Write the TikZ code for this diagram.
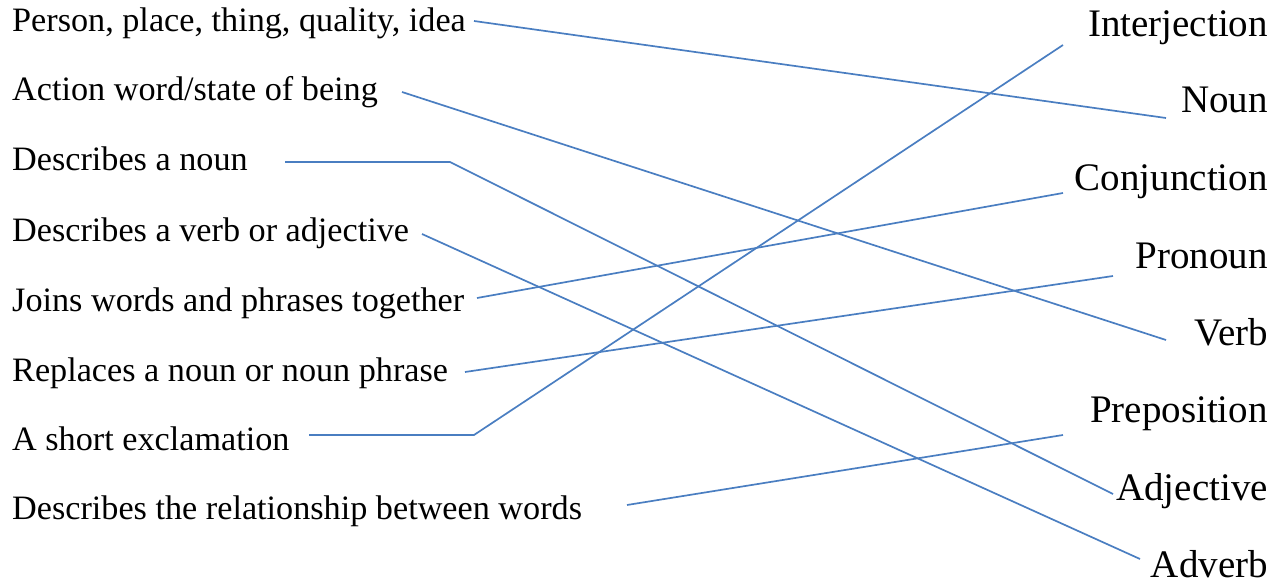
\documentclass[tikz,border=0pt]{standalone}
\usepackage{fontspec}
\setmainfont{Liberation Serif}
\definecolor{linkblue}{RGB}{74,126,193}
\begin{document}
\begin{tikzpicture}[x=1pt,y=-1pt,
  deftext/.style={anchor=base west,inner sep=0pt,font=\fontsize{34.2}{40}\selectfont},
  termtext/.style={anchor=base east,inner sep=0pt,font=\fontsize{39}{46}\selectfont},
  link/.style={draw=linkblue,line width=1.7pt}]
\useasboundingbox (0,0) rectangle (1283,583);
% definitions
\node[deftext] (d1) at (12,32) {Person, place, thing, quality, idea};
\node[deftext] (d2) at (12,101) {Action word/state of being};
\node[deftext] (d3) at (12,171) {Describes a noun};
\node[deftext] (d4) at (12,241) {Describes a verb or adjective};
\node[deftext] (d5) at (12,311) {Joins words and phrases together};
\node[deftext] (d6) at (12,381) {Replaces a noun or noun phrase};
\node[deftext] (d7) at (12,450) {A short exclamation};
\node[deftext] (d8) at (12,519) {Describes the relationship between words};
% terms
\node[termtext] (t1) at (1268,37) {Interjection};
\node[termtext] (t2) at (1268,113) {Noun};
\node[termtext] (t3) at (1268,190) {Conjunction};
\node[termtext] (t4) at (1268,268) {Pronoun};
\node[termtext] (t5) at (1268,345) {Verb};
\node[termtext] (t6) at (1268,422) {Preposition};
\node[termtext] (t7) at (1268,500) {Adjective};
\node[termtext] (t8) at (1268,577) {Adverb};
% connector ends
\coordinate (a1) at (474,21);   \coordinate (b1) at (1166,118);
\coordinate (a2) at (402,92);   \coordinate (b2) at (1166,340);
\coordinate (a3) at (285,162);  \coordinate (k3) at (450,162); \coordinate (b3) at (1113,494);
\coordinate (a4) at (422,234);  \coordinate (b4) at (1140,559);
\coordinate (a5) at (477,298);  \coordinate (b5) at (1063,193);
\coordinate (a6) at (465,372);  \coordinate (b6) at (1113,276);
\coordinate (a7) at (309,435);  \coordinate (k7) at (474,435); \coordinate (b7) at (1063,45);
\coordinate (a8) at (627,505);  \coordinate (b8) at (1063,435);
% connectors
\draw[link] (a1) -- (b1);
\draw[link] (a2) -- (b2);
\draw[link] (a3) -- (k3) -- (b3);
\draw[link] (a4) -- (b4);
\draw[link] (a5) -- (b5);
\draw[link] (a6) -- (b6);
\draw[link] (a7) -- (k7) -- (b7);
\draw[link] (a8) -- (b8);
\end{tikzpicture}
\end{document}
